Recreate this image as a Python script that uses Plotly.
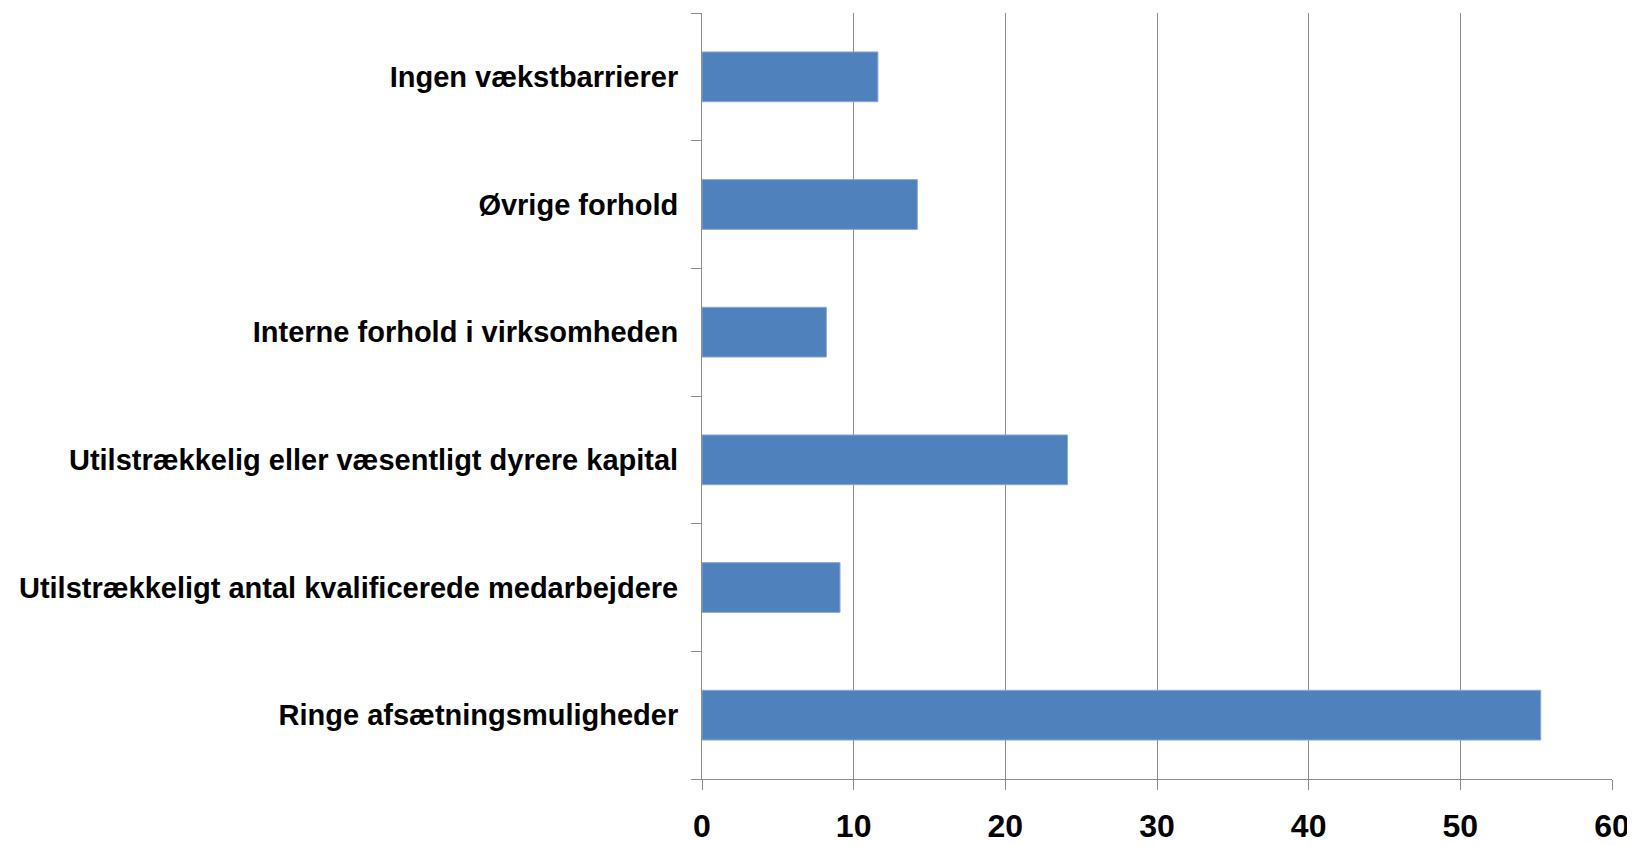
import plotly.graph_objects as go

categories = [
    "Ringe afsætningsmuligheder",
    "Utilstrækkeligt antal kvalificerede medarbejdere",
    "Utilstrækkelig eller væsentligt dyrere kapital",
    "Interne forhold i virksomheden",
    "Øvrige forhold",
    "Ingen vækstbarrierer",
]
values = [55.3, 9.1, 24.1, 8.2, 14.2, 11.6]
x_ticks = [0, 10, 20, 30, 40, 50, 60]

FONT = "Liberation Sans, Arial, sans-serif"

fig = go.Figure(
    go.Bar(
        y=categories,
        x=values,
        orientation="h",
        marker=dict(color="#4F81BD", line=dict(color="#8EAAD6", width=1)),
        width=0.39,
    )
)

# page body has an 8px default margin, so the figure is sized/offset to compensate
fig.update_layout(
    width=1627,
    height=838,
    margin=dict(l=694, r=23, t=5, b=67, autoexpand=False),
    plot_bgcolor="white",
    paper_bgcolor="white",
    showlegend=False,
    font=dict(family=FONT, size=29, color="black"),
)

fig.update_xaxes(
    range=[0, 60],
    tickvals=x_ticks,
    ticktext=[str(v) for v in x_ticks],
    showgrid=True,
    gridcolor="#8C8C8C",
    gridwidth=1,
    showline=True,
    linecolor="#8C8C8C",
    linewidth=1,
    ticks="outside",
    ticklen=10,
    tickcolor="#8C8C8C",
    tickfont=dict(family=FONT, size=32, color="black", weight="bold"),
    ticklabelstandoff=9,
    zeroline=False,
    automargin=False,
    fixedrange=True,
)

fig.update_yaxes(
    type="category",
    categoryorder="array",
    categoryarray=categories,
    tickson="boundaries",
    ticks="outside",
    ticklen=10,
    tickcolor="#8C8C8C",
    showline=True,
    linecolor="#8C8C8C",
    linewidth=1,
    showgrid=False,
    tickfont=dict(family=FONT, size=29, color="black", weight="bold"),
    ticklabelstandoff=17,
    automargin=False,
    fixedrange=True,
)

fig.write_html("out.html")
